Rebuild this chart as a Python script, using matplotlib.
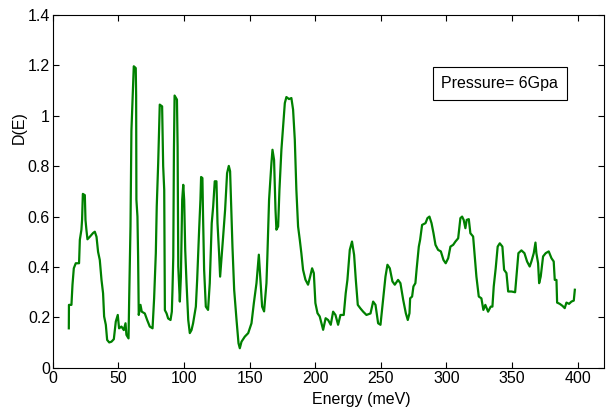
import matplotlib
matplotlib.use("Agg")
import matplotlib.pyplot as plt
from matplotlib.ticker import FormatStrFormatter

plt.rcParams['font.family'] = ['Liberation Sans', 'DejaVu Sans']

# energy (meV) and density of states
energy = [
    12.2, 12.3, 14.2, 15, 16, 17.5, 20, 20.6, 21.8, 22.3, 22.9, 24.4, 24.9, 25.6, 26.4,
    28.2, 30.7, 32, 33.3, 34.5, 35.8, 37.1, 38.3, 39.1, 40.4, 41.4, 43, 44.7, 46.5, 48,
    49.5, 50.5, 52.3, 54.1, 55.4, 56.1, 57.7, 58.2, 59.2, 59.9, 61.2, 61.7, 63.2, 63.5,
    63.7, 64.5, 65, 65.5, 66.8, 67.8, 70.1, 71.9, 73.9, 76, 77.2, 78.5, 79.2, 80.3, 80.8,
    81.5, 83.3, 84.1, 84.9, 85.4, 86.7, 87.9, 89.7, 90.7, 91.2, 91.8, 92.3, 92.8, 94.6,
    95.1, 95.6, 96.8, 97.6, 98.6, 99.4, 100.1, 100.9, 101.9, 103.2, 104.4, 105.7, 106.9,
    109, 110, 111.5, 112.5, 113, 114, 114.5, 115.3, 116.6, 118.3, 119.6, 121.1, 122.2,
    123.4, 124.7, 125.5, 126.7, 127.5, 128.5, 129.8, 131.3, 132.8, 134.1, 135.1, 135.9,
    136.9, 138.2, 140, 141.5, 142.5, 143.8, 146.3, 148.9, 151.4, 153.2, 155.2, 157, 158.2,
    159.5, 161, 162.8, 163.5, 164.8, 165.8, 166.6, 167.4, 168.6, 169.7, 170.4, 171.7,
    172.7, 174.2, 175.5, 176.8, 178, 180, 181.8, 183.1, 184.4, 185.6, 186.9, 188.2, 189.4,
    190.7, 192.5, 194.5, 196.1, 197.6, 198.9, 200.1, 201.7, 203.4, 206, 207.9, 209.8,
    211.8, 213.6, 215.4, 217.4, 219.2, 221.7, 223.2, 224.5, 226.3, 228, 229.6, 230.9,
    232.4, 234.4, 236.5, 239, 242.1, 244.1, 245.9, 247.9, 249.7, 251.7, 253.5, 255, 256.8,
    258.8, 260.6, 263.1, 264.9, 267, 269, 270.5, 271.8, 272.3, 273.8, 274.8, 276.3, 277.3,
    278.9, 279.9, 281.4, 284, 285.5, 287, 288.6, 290.1, 291.6, 293.6, 295.7, 297.7, 299.4,
    301.3, 303, 305.1, 306.8, 308.9, 310.6, 311.9, 313.1, 314.4, 315.4, 317, 318.2, 320.3,
    321.5, 322.8, 324.6, 326.6, 328.1, 329.6, 331.7, 333.7, 335, 336, 337.5, 339, 340.6,
    342.6, 343.9, 345.7, 347, 349.5, 352.3, 353.3, 354.8, 357.1, 359.4, 361.4, 363.4,
    364.7, 366.5, 367.8, 368.5, 369.8, 370.6, 371.8, 373.6, 375.6, 377.9, 380, 381.7,
    382.5, 383.8, 384.3, 386.3, 388.4, 390.1, 391.4, 393.4, 395.2, 397, 397.8,
]
dos = [
    0.157, 0.25, 0.25, 0.33, 0.395, 0.415, 0.415, 0.508, 0.548, 0.587, 0.69, 0.685, 0.587, 0.548, 0.51,
    0.52, 0.535, 0.54, 0.52, 0.46, 0.428, 0.349, 0.296, 0.204, 0.171, 0.111, 0.101, 0.104, 0.114, 0.184,
    0.21, 0.157, 0.164, 0.15, 0.177, 0.131, 0.117, 0.276, 0.561, 0.94, 1.13, 1.196, 1.189, 1.08,
    0.667, 0.6, 0.44, 0.21, 0.25, 0.223, 0.216, 0.19, 0.164, 0.157, 0.276, 0.455, 0.64, 0.812, 0.905,
    1.044, 1.037, 0.8, 0.706, 0.229, 0.216, 0.196, 0.19, 0.223, 0.31, 0.44, 0.865, 1.08, 1.064,
    0.878, 0.402, 0.263, 0.362, 0.667, 0.726, 0.667, 0.468, 0.336, 0.19, 0.138, 0.15, 0.177,
    0.243, 0.349, 0.548, 0.667, 0.757, 0.753, 0.6, 0.39, 0.243, 0.23, 0.336, 0.574, 0.64,
    0.74, 0.74, 0.574, 0.455, 0.362, 0.429, 0.521, 0.627, 0.772, 0.801, 0.78, 0.653,
    0.481, 0.31, 0.19, 0.098, 0.078, 0.104, 0.124, 0.138, 0.177, 0.257, 0.336, 0.449, 0.35,
    0.243, 0.224, 0.336, 0.442, 0.667, 0.746, 0.812, 0.865, 0.825, 0.627, 0.548, 0.561,
    0.706, 0.865, 0.958, 1.05, 1.074, 1.066, 1.07, 1.024, 0.905, 0.706, 0.561, 0.508, 0.455,
    0.389, 0.35, 0.33, 0.362, 0.395, 0.376, 0.257, 0.217, 0.204, 0.151, 0.197, 0.19,
    0.171, 0.223, 0.21, 0.171, 0.21, 0.21, 0.296, 0.349, 0.468, 0.501, 0.448, 0.349,
    0.25, 0.236, 0.223, 0.21, 0.216, 0.263, 0.25, 0.177, 0.171, 0.27, 0.362, 0.409, 0.395,
    0.343, 0.33, 0.349, 0.336, 0.27, 0.217, 0.19, 0.217, 0.276, 0.283, 0.323, 0.336, 0.395,
    0.481, 0.508, 0.567, 0.574, 0.594, 0.6, 0.574, 0.534, 0.488, 0.468, 0.462, 0.428, 0.415,
    0.435, 0.481, 0.488, 0.501, 0.514, 0.594, 0.6, 0.587, 0.554, 0.587, 0.59, 0.534, 0.521,
    0.442, 0.362, 0.283, 0.276, 0.23, 0.25, 0.223, 0.243, 0.243, 0.323, 0.395, 0.481, 0.494,
    0.481, 0.389, 0.376, 0.303, 0.303, 0.3, 0.362, 0.455, 0.466, 0.455, 0.422, 0.402,
    0.422, 0.455, 0.497, 0.455, 0.415, 0.336, 0.362, 0.442, 0.455, 0.462, 0.435, 0.422,
    0.349, 0.349, 0.259, 0.254, 0.246, 0.237, 0.259, 0.254, 0.263, 0.267, 0.31,
]

xticks = [0, 50, 100, 150, 200, 250, 300, 350, 400]
yticks = [0, 0.2, 0.4, 0.6, 0.8, 1.0, 1.2, 1.4]

fig = plt.figure(figsize=(6.07, 4.12), dpi=100)
ax = fig.add_axes([0.087, 0.107, 0.908, 0.857])

ax.plot(energy, dos, color='#008000', lw=1.6)

ax.set_xlim(0, 420)
ax.set_ylim(0, 1.4)
ax.set_xticks(xticks)
ax.set_yticks(yticks)
ax.yaxis.set_major_formatter(FormatStrFormatter('%g'))
ax.tick_params(direction='in', top=True, right=True, labelsize=11.5, length=4, pad=2)
ax.set_xlabel('Energy (meV)', fontsize=11.5)
ax.set_ylabel('D(E)', fontsize=11.5)
# label positions in the reference are off-centre
ax.xaxis.set_label_coords(0.56, -0.068)
ax.yaxis.set_label_coords(-0.047, 0.68)

ax.text(0.811, 0.805, 'Pressure= 6Gpa', transform=ax.transAxes, fontsize=11.5,
        va='center', ha='center',
        bbox=dict(boxstyle='square,pad=0.55', fc='white', ec='black', lw=0.8))

fig.savefig('out.png', dpi=100)
